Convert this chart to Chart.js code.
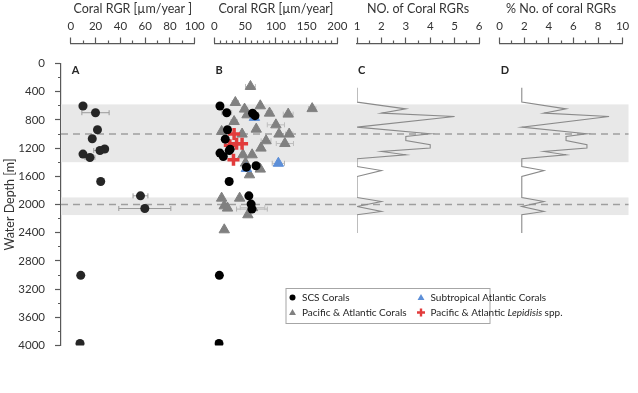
<!DOCTYPE html>
<html>
<head>
<meta charset="utf-8">
<title>Coral RGR vs water depth</title>
<script src="https://cdn.jsdelivr.net/npm/chart.js@4.4.1/dist/chart.umd.min.js"></script>
<style>
  body { margin: 0; background: #fff; }
</style>
</head>
<body>
<canvas id="depthChart" width="638" height="393"></canvas>
<script>
// shaded depth intervals + dashed reference depths
const bandTop = [580, 1900];
const bandBottom = [1400, 2150];
const refDepths = [1000, 2000];

// panel A - SCS corals
const scsRgrA = [9.8, 19.9, 21.5, 17.3, 27.3, 23.5, 9.8, 15.4, 24.1, 56.2, 59.7, 8.0, 7.4];
const scsDepthA = [603, 698, 940, 1068, 1213, 1234, 1285, 1333, 1674, 1877, 2057, 3005, 3970];
const scsErrA = [3, 11, 0, 0, 3, 5, 0, 4, 2, 6, 21, 0, 0];

// panel B - SCS corals
const scsRgrB = [9, 20, 62, 66, 21.3, 17.6, 25.6, 24, 9, 14.4, 52, 67.7, 24, 56, 59.7, 61, 8, 7.4];
const scsDepthB = [603, 698, 705, 740, 940, 1073, 1215, 1235, 1271, 1319, 1470, 1451, 1674, 1877, 1994, 2065, 3005, 3970];
const scsErrB = [3, 8, 0, 0, 0, 0, 0, 4, 0, 0, 0, 0, 0, 0, 0, 25, 0, 0];

// panel B - Pacific & Atlantic corals
const pacRgr = [58.6, 34, 49, 74.6, 53, 89.6, 120, 159, 32, 100, 68, 11.7, 45, 105, 121.6, 84, 114.6, 75.7, 46.4, 61.3, 50.6, 57, 74.6, 11.7, 41, 16, 21.3, 54.4, 16, 62];
const pacDepth = [326, 553, 647, 600, 728, 704, 718, 640, 823, 870, 931, 964, 1001, 1001, 1001, 1096, 1135, 1200, 1295, 1295, 1413, 1579, 1498, 1910, 1910, 2019, 2051, 2146, 2359, 2045];
const pacErr = [8, 5, 5, 0, 0, 5, 8, 6, 5, 14, 0, 0, 0, 0, 6, 8, 14, 0, 0, 0, 0, 0, 0, 0, 0, 0, 0, 0, 0, 20];

// panel B - subtropical Atlantic corals
const subRgr = [65, 104, 52];
const subDepth = [765, 1415, 1490];
const subErr = [6, 10, 0];

// panel B - Pacific & Atlantic Lepidisis spp.
const lepRgr = [32, 25, 36, 45, 31];
const lepDepth = [1000, 1160, 1140, 1140, 1365];

// panels C and D - number / share of coral RGRs per depth
const binDepth = [345, 548, 643, 704, 752, 902, 997, 1035, 1092, 1153, 1200, 1248, 1295, 1352, 1461, 1518, 1603, 1900, 1957, 2028, 2099, 2146, 2406];
const rgrCount = [1, 1, 3, 2, 5, 1, 4, 3, 3, 4, 4, 2, 3, 1, 1, 2, 1, 1, 2, 1, 2, 1, 1];
const rgrPercent = [1.8, 1.8, 5.4, 3.6, 8.9, 1.8, 7.1, 5.4, 5.4, 7.1, 7.1, 3.6, 5.4, 1.8, 1.8, 3.6, 1.8, 1.8, 3.6, 1.8, 3.6, 1.8, 1.8];

const panelIds = ['xA', 'xB', 'xC', 'xD'];
const panelLetters = ['A', 'B', 'C', 'D'];

Chart.defaults.font.family = 'Lato';
Chart.defaults.color = '#333';

const axisColor = '#595959';
const pts = (xs, ys) => xs.map((x, i) => ({ x: x, y: ys[i] }));
const isMajor = (v, major) => Math.abs(v / major - Math.round(v / major)) < 1e-6;

function topAxis(min, max, step, major, title, weight, stackWeight) {
  return {
    type: 'linear', position: 'top', stack: 'top', weight: weight, stackWeight: stackWeight,
    min: min, max: max,
    ticks: {
      stepSize: step, maxTicksLimit: 100, autoSkip: false, maxRotation: 0, padding: 4,
      font: { size: 11.5 },
      callback: v => isMajor(v, major) ? v : ''
    },
    grid: {
      drawOnChartArea: false, tickLength: 6, tickWidth: 1.2, tickColor: axisColor,
      tickBorderDash: c => isMajor(c.tick.value, major) ? [] : [3, 3],
      tickBorderDashOffset: c => isMajor(c.tick.value, major) ? 0 : 3
    },
    border: { color: axisColor, width: 1.2 },
    title: { display: true, text: title, font: { size: 12.5 }, padding: { top: 1, bottom: 0 } },
    afterFit: s => { s.height = 63.5; s.paddingLeft = 0; s.paddingRight = 0; }
  };
}

// empty spacer axes so the four panels sit apart like the figure
function gapAxis(weight, stackWeight) {
  return {
    type: 'linear', position: 'top', stack: 'top', weight: weight, stackWeight: stackWeight,
    ticks: { display: false }, grid: { display: false }, border: { display: false },
    afterFit: s => { s.height = 63.5; s.paddingLeft = 0; s.paddingRight = 0; }
  };
}

// shaded intervals, dashed depths and x error bars
const backdrop = {
  id: 'backdrop',
  beforeDatasetsDraw(chart) {
    const { ctx, chartArea, scales } = chart;
    const y = scales.y;
    ctx.save();
    ctx.fillStyle = '#e8e8e8';
    bandTop.forEach((t, i) => {
      const y1 = y.getPixelForValue(t), y2 = y.getPixelForValue(bandBottom[i]);
      ctx.fillRect(chartArea.left, y1, chartArea.right - chartArea.left, y2 - y1);
    });
    ctx.strokeStyle = '#9e9e9e';
    ctx.lineWidth = 1.4;
    ctx.setLineDash([7, 5]);
    refDepths.forEach(d => {
      const py = y.getPixelForValue(d);
      ctx.beginPath();
      ctx.moveTo(chartArea.left, py);
      ctx.lineTo(chartArea.right, py);
      ctx.stroke();
    });
    ctx.setLineDash([]);
    chart.data.datasets.forEach(ds => {
      if (!ds.xErr) return;
      const xs = scales[ds.xAxisID];
      ctx.strokeStyle = ds.errColor;
      ctx.lineWidth = 1;
      ds.data.forEach((p, i) => {
        const e = ds.xErr[i];
        if (!e) return;
        const x1 = xs.getPixelForValue(p.x - e), x2 = xs.getPixelForValue(p.x + e);
        const py = y.getPixelForValue(p.y);
        ctx.beginPath();
        ctx.moveTo(x1, py); ctx.lineTo(x2, py);
        ctx.moveTo(x1, py - 2.5); ctx.lineTo(x1, py + 2.5);
        ctx.moveTo(x2, py - 2.5); ctx.lineTo(x2, py + 2.5);
        ctx.stroke();
      });
    });
    ctx.restore();
  }
};

// move the top axes up so they float above the depth range
const axisLift = {
  id: 'axisLift',
  afterLayout(chart) {
    panelIds.forEach(id => {
      const s = chart.scales[id];
      s.bottom -= 20;
      s.height -= 20;
    });
  }
};

function marker(ctx, style, x, y, r) {
  ctx.beginPath();
  if (style === 'circle') {
    ctx.arc(x, y, r, 0, Math.PI * 2);
    ctx.fill();
  } else if (style === 'triangle') {
    ctx.moveTo(x, y - r);
    ctx.lineTo(x + r * 0.866, y + r * 0.5);
    ctx.lineTo(x - r * 0.866, y + r * 0.5);
    ctx.closePath();
    ctx.fill();
  } else {
    ctx.moveTo(x - r, y); ctx.lineTo(x + r, y);
    ctx.moveTo(x, y - r); ctx.lineTo(x, y + r);
    ctx.stroke();
  }
}

const panelLegend = {
  id: 'panelLegend',
  afterDraw(chart) {
    const { ctx, scales } = chart;
    ctx.save();
    // panel letters
    ctx.fillStyle = '#262626';
    ctx.font = 'bold 11px Lato';
    ctx.textBaseline = 'middle';
    panelIds.forEach((id, i) => {
      ctx.fillText(panelLetters[i], scales[id].left + 1, scales.y.getPixelForValue(95));
    });
    // legend box
    const box = { left: 286, top: 288.5, width: 204, height: 35 };
    const colX = [292.5, 421], rowY = [297.5, 312.5];
    ctx.fillStyle = '#fff';
    ctx.fillRect(box.left, box.top, box.width, box.height);
    ctx.strokeStyle = '#a6a6a6';
    ctx.lineWidth = 1;
    ctx.strokeRect(box.left, box.top, box.width, box.height);
    chart.data.datasets.forEach(ds => {
      if (!ds.legendPos) return;
      const x = colX[ds.legendPos[0]], y = rowY[ds.legendPos[1]];
      ctx.fillStyle = ds.backgroundColor;
      ctx.strokeStyle = ds.borderColor;
      ctx.lineWidth = 2.4;
      const r = ds.pointStyle === 'circle' ? 3 : 4;
      marker(ctx, ds.pointStyle, x, ds.pointStyle === 'triangle' ? y + 0.5 : y, r);
      ctx.fillStyle = '#262626';
      let tx = x + 9.5;
      ds.label.split(' ').forEach((w, k, arr) => {
        ctx.font = (w === ds.italicWord ? 'italic ' : '') + '10px Lato';
        const word = w + (k < arr.length - 1 ? ' ' : '');
        ctx.fillText(word, tx, y);
        tx += ctx.measureText(word).width;
      });
    });
    ctx.restore();
  }
};

new Chart(document.getElementById('depthChart').getContext('2d'), {
  type: 'scatter',
  data: {
    datasets: [
      {
        label: 'SCS Corals', xAxisID: 'xB', data: pts(scsRgrB, scsDepthB), xErr: scsErrB, errColor: '#b4b4b4',
        pointStyle: 'circle', pointRadius: 4.5, backgroundColor: '#000', borderColor: '#000', borderWidth: 0,
        legendPos: [0, 0]
      },
      {
        label: 'SCS Corals A', xAxisID: 'xA', data: pts(scsRgrA, scsDepthA), xErr: scsErrA, errColor: '#9a9a9a',
        pointStyle: 'circle', pointRadius: 4.5, backgroundColor: '#262626', borderColor: '#262626', borderWidth: 0
      },
      {
        label: 'Pacific & Atlantic Lepidisis spp.', italicWord: 'Lepidisis', xAxisID: 'xB', data: pts(lepRgr, lepDepth),
        pointStyle: 'cross', pointRadius: 6, backgroundColor: '#e23c3c', borderColor: '#e23c3c', borderWidth: 3.5,
        legendPos: [1, 1]
      },
      {
        label: 'Subtropical Atlantic Corals', xAxisID: 'xB', data: pts(subRgr, subDepth), xErr: subErr, errColor: '#b4b4b4',
        pointStyle: 'triangle', pointRadius: 6, backgroundColor: '#5d8fd8', borderColor: '#5d8fd8', borderWidth: 1,
        legendPos: [1, 0]
      },
      {
        label: 'Pacific & Atlantic Corals', xAxisID: 'xB', data: pts(pacRgr, pacDepth), xErr: pacErr, errColor: '#bdbdbd',
        pointStyle: 'triangle', pointRadius: 6, backgroundColor: '#808080', borderColor: '#808080', borderWidth: 1,
        legendPos: [0, 1]
      },
      {
        label: 'NO. of Coral RGRs', xAxisID: 'xC', data: pts(rgrCount, binDepth),
        showLine: true, pointRadius: 0, borderColor: '#8a8a8a', borderWidth: 1.1, fill: false
      },
      {
        label: '% No. of coral RGRs', xAxisID: 'xD', data: pts(rgrPercent, binDepth),
        showLine: true, pointRadius: 0, borderColor: '#8a8a8a', borderWidth: 1.1, fill: false
      }
    ]
  },
  options: {
    responsive: false,
    animation: false,
    events: [],
    layout: { padding: { left: 0, right: 0, top: 0, bottom: 47.5 } },
    plugins: { legend: { display: false }, tooltip: { enabled: false } },
    scales: {
      y: {
        type: 'linear', position: 'left', reverse: true, min: 0, max: 4000,
        ticks: {
          stepSize: 200, maxTicksLimit: 100, autoSkip: false, padding: 10, font: { size: 11.5 },
          callback: v => isMajor(v, 400) ? v : ''
        },
        grid: {
          drawOnChartArea: false, tickLength: 6, tickWidth: 1.2, tickColor: axisColor,
          tickBorderDash: c => isMajor(c.tick.value, 400) ? [] : [3, 3],
          tickBorderDashOffset: c => isMajor(c.tick.value, 400) ? 0 : 3
        },
        border: { color: axisColor, width: 1.2 },
        title: { display: true, text: 'Water Depth [m]', font: { size: 12.5 }, padding: { top: 2, bottom: 0 } },
        afterFit: s => { s.width = 61; s.paddingTop = 0; s.paddingBottom = 0; }
      },
      gap0: gapAxis(9, 10),
      xA: topAxis(0, 100, 10, 20, 'Coral RGR [µm/year ]', 8, 126),
      gap1: gapAxis(7, 20),
      xB: topAxis(0, 200, 10, 50, 'Coral RGR [µm/year]', 6, 125),
      gap2: gapAxis(5, 20),
      xC: topAxis(1, 6, 0.5, 1, 'NO. of Coral RGRs', 4, 124),
      gap3: gapAxis(3, 21),
      xD: topAxis(0, 10, 1, 2, '% No. of coral RGRs', 2, 125),
      gap4: gapAxis(1, 6)
    }
  },
  plugins: [backdrop, axisLift, panelLegend]
});
</script>
</body>
</html>
